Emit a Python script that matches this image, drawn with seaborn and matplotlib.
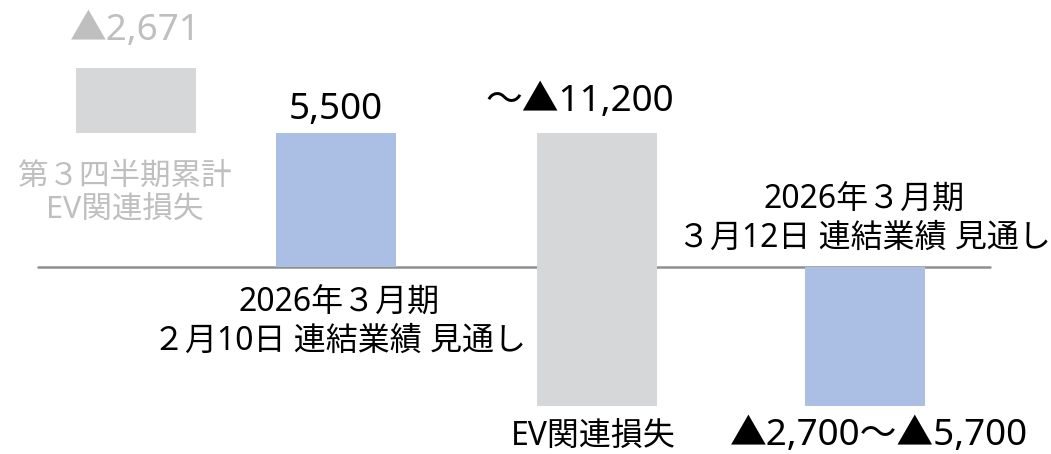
import pandas as pd
import seaborn as sns
import matplotlib.pyplot as plt

# bridge: Feb forecast -> EV loss -> Mar forecast (百万円)
names = ['第３四半期累計\nEV関連損失',
         '2026年３月期\n２月10日 連結業績 見通し',
         'EV関連損失',
         '2026年３月期\n３月12日 連結業績 見通し']
value_labels = ['▲2,671', '5,500', '～▲11,200', '▲2,700～▲5,700']
bottoms = [5500, 0, 5500, 0]
heights = [2671, 5500, -11200, -5700]

# layout only: horizontal slot of each bar and bar colours
slots = [0.0, 1.0, 2.305, 3.645]
colors = ['#d6d7d9', '#abbfe5', '#d6d7d9', '#abbfe5']

df = pd.DataFrame({'slot': slots, 'height': heights, 'bottom': bottoms})

sns.set_style('white')
plt.rcParams['font.family'] = ['Noto Sans', 'Noto Sans CJK JP', 'DejaVu Sans']

fig = plt.figure(figsize=(10.51, 4.54), dpi=100)
ax = fig.add_axes([0, 0, 1, 1])

sns.barplot(data=df, x='slot', y='height', native_scale=True, width=0.6,
            bottom=df['bottom'].tolist(), errorbar=None, ax=ax, zorder=2,
            color=colors[1], saturation=1)
for patch, c in zip(ax.patches, colors):
    patch.set_facecolor(c)
    patch.set_edgecolor('none')
    patch.set_linewidth(0)

ax.axhline(0, xmin=0.036, xmax=0.942, color='#8f8f8f', lw=1.8, zorder=1)

ax.set_xlim(-0.6775, 4.5775)
ax.set_ylim(-7664, 10943)
ax.axis('off')


def put(x, y, s, dy, dx=0, size=23, color='black', ls=1.2):
    # dx, dy in pixels
    ax.annotate(s, (x, y), xytext=(dx * 0.72, dy * 0.72), textcoords='offset points',
                ha='center', va='center', fontsize=size, color=color,
                multialignment='center', linespacing=ls)


tops = [b + max(h, 0) for b, h in zip(bottoms, heights)]
lows = [b + min(h, 0) for b, h in zip(bottoms, heights)]

grey_txt = '#bfbfbf'
put(slots[0], tops[0], value_labels[0], 37, size=26.5, color=grey_txt)
put(slots[0], lows[0], names[0], -61, dx=-11, size=22, color=grey_txt)
put(slots[1], tops[1], value_labels[1], 23, size=26.5)
put(slots[1], lows[1], names[1], -55, dx=4)
put(slots[2], tops[2], value_labels[2], 31, dx=-17, size=26.5)
put(slots[2], lows[2], names[2], -31, dx=-3)
put(slots[3], 0, names[3], 48, dx=0)
put(slots[3], lows[3], value_labels[3], -30, dx=14, size=26.5)

fig.savefig('out.png', dpi=100)
